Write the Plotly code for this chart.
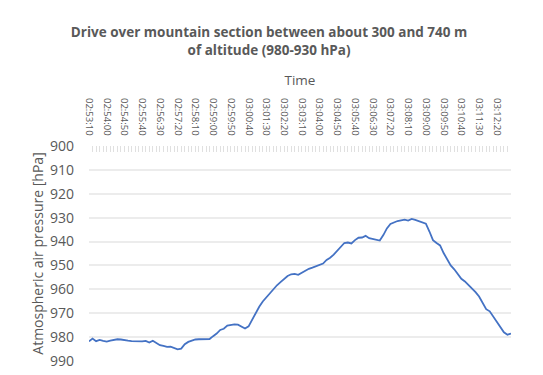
import plotly.graph_objects as go
from datetime import datetime, timedelta

# Time categories: every 10 s from 02:53:10
start_time = "02:53:10"
n_points = 120
times = [(datetime.strptime(start_time, "%H:%M:%S") + timedelta(seconds=10 * i)).strftime("%H:%M:%S") for i in range(n_points)]

pressure_hpa = [
    981.8, 980.6, 981.7, 981.2, 981.6, 981.9, 981.5, 981.2, 980.9, 981.0,
    981.4, 981.5, 981.7, 981.8, 982.0, 981.8, 981.6, 982.3, 981.5, 982.5,
    983.4, 983.7, 984.1, 984.0, 984.6, 985.1, 984.8, 983.0, 982.0, 981.4,
    981.0, 980.9, 980.9, 980.9, 980.8, 979.6, 978.5, 977.0, 976.5, 975.2,
    974.8, 974.7, 974.8, 975.6, 976.4, 975.5, 972.6, 970.2, 967.3, 965.1,
    963.4, 961.6, 960.0, 958.3, 957.0, 955.6, 954.4, 953.7, 953.5, 953.9,
    953.0, 952.2, 951.4, 950.9, 950.4, 950.0, 949.2, 947.7, 946.8, 945.5,
    943.8, 942.0, 940.6, 940.4, 940.8, 939.4, 938.4, 938.3, 937.6, 938.6,
    939.0, 939.4, 939.6, 937.3, 934.5, 932.6, 931.9, 931.4, 931.1, 930.8,
    931.2, 930.5, 930.9, 931.4, 932.0, 932.5, 935.8, 939.4, 940.6, 941.6,
    944.8, 947.6, 950.0, 951.6, 953.8, 955.6, 956.7, 958.1, 959.4, 961.2,
    963.0, 965.6, 968.3, 969.2, 971.3, 973.8, 975.9, 978.0, 979.0, 978.5,
]

y_ticks = [900, 910, 920, 930, 940, 950, 960, 970, 980, 990]
label_every = 5
tick_text = [t if i % label_every == 0 else "" for i, t in enumerate(times)]

title_text = "Drive over mountain section between about 300 and 740 m<br>of altitude (980-930 hPa)"
x_title = "Time"
y_title = "Atmospheric air pressure [hPa]"

grey = "#595959"
font_family = "Open Sans, Noto Sans, sans-serif"

fig = go.Figure()
fig.add_trace(go.Scatter(
    x=times, y=pressure_hpa, mode="lines",
    line=dict(color="#4472C4", width=1.8),
    showlegend=False, hoverinfo="x+y",
))

fig.update_layout(
    width=543, height=375,
    margin=dict(l=81, r=40, t=138, b=22),
    paper_bgcolor="white", plot_bgcolor="white",
    font=dict(family=font_family, color=grey),
    title=dict(
        text="<b>" + title_text + "</b>",
        x=0.4807, xanchor="center", y=0.9216, yanchor="top",
        font=dict(size=13.5, color=grey, family=font_family),
    ),
)

fig.update_xaxes(
    type="category", side="top", automargin=False,
    tickmode="array", tickvals=times, ticktext=tick_text,
    tickangle=90, tickfont=dict(size=9.5, color=grey),
    ticks="inside", ticklen=6, tickcolor="#e0e0e0", tickwidth=1,
    ticklabelstandoff=8,
    showgrid=False, showline=False, zeroline=False,
    title=dict(text=x_title, font=dict(size=13.5, color=grey), standoff=9),
)

fig.update_yaxes(
    range=[990, 900], tickmode="array", tickvals=y_ticks, automargin=False,
    tickfont=dict(size=14, color=grey),
    showgrid=True, gridcolor="#ececec", gridwidth=1.5,
    zeroline=False, showline=False,
    ticks="", ticklabelstandoff=14,
    title=dict(text=y_title, font=dict(size=14, color=grey), standoff=3),
)

fig.write_html("out.html")
